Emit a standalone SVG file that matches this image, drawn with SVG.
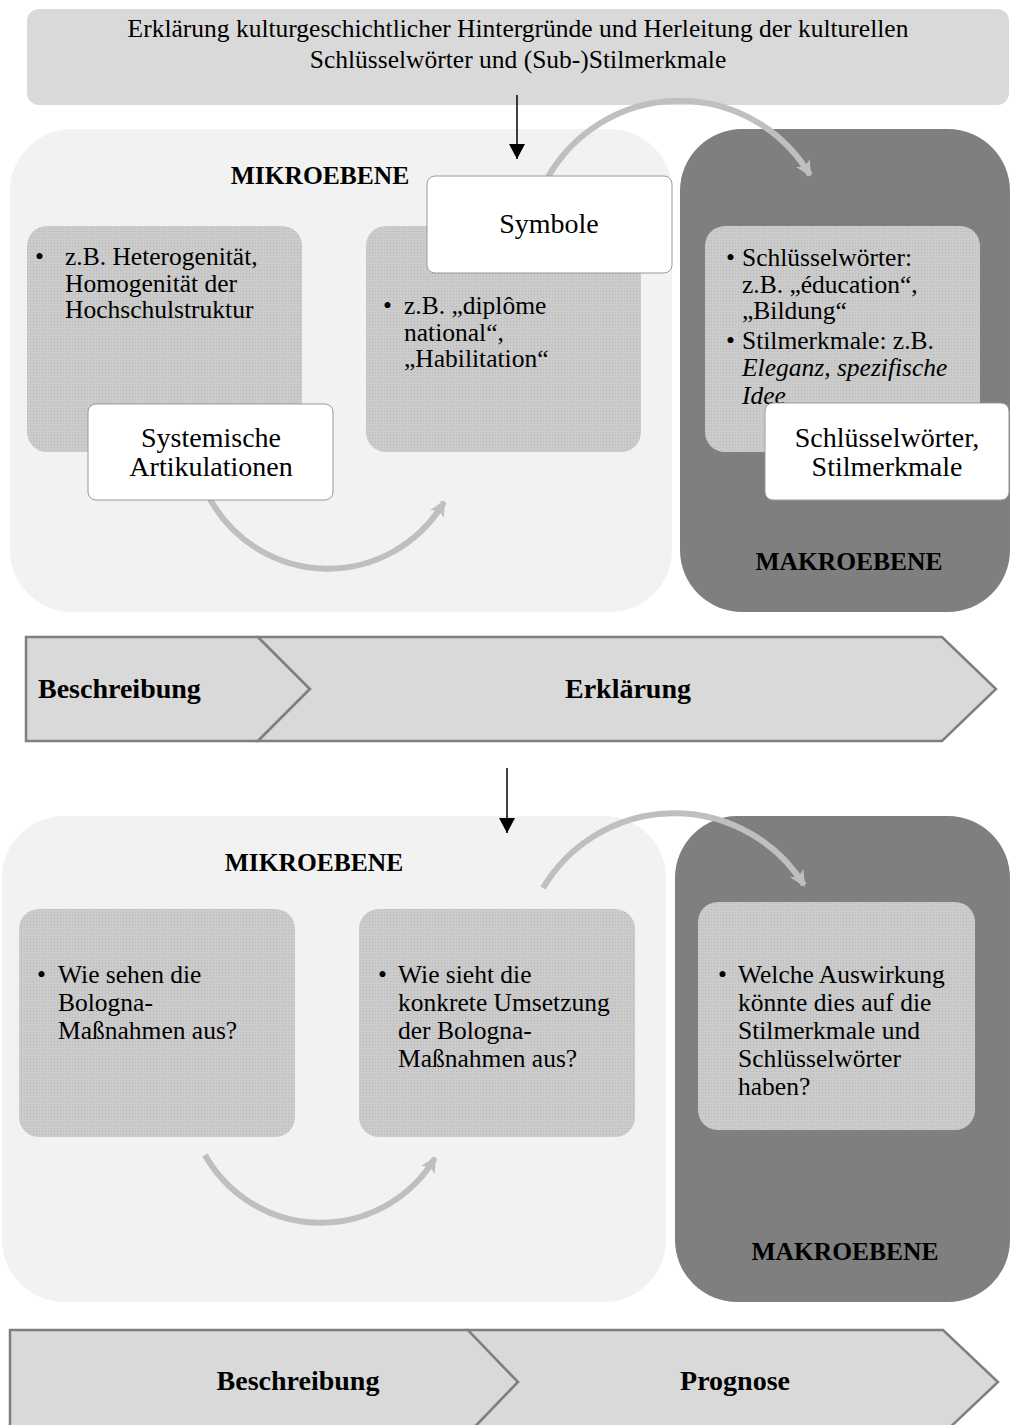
<svg xmlns="http://www.w3.org/2000/svg" width="1010" height="1425" viewBox="0 0 1010 1425">
<defs>
<pattern id="dots" width="3" height="3" patternUnits="userSpaceOnUse">
<rect width="3" height="3" fill="#cbcbcb"/>
<rect width="1" height="1" fill="#b8b8b8"/>
</pattern>
<marker id="greyHead" markerWidth="18" markerHeight="18" refX="14" refY="9" orient="auto" markerUnits="userSpaceOnUse">
<path d="M0,1 L16,9 L0,17 L4,9 Z" fill="#bfbfbf"/>
</marker>
<marker id="blackHead" markerWidth="16" markerHeight="16" refX="15" refY="8" orient="auto" markerUnits="userSpaceOnUse">
<path d="M0,0 L15,8 L0,16 Z" fill="#000"/>
</marker>
<style>
.t{font-family:"Liberation Serif","Times New Roman",serif;fill:#000}
.body{font-size:25.5px}
.lab{font-size:28px}
.head{font-size:25.5px;font-weight:bold}
.chev{font-size:28px;font-weight:bold}
.inner{fill:url(#dots)}
.white{fill:#ffffff;stroke:#9a9a9a;stroke-width:1}
.mikro{fill:#f2f2f2}
.makro{fill:#7f7f7f}
.chevshape{fill:#d9d9d9;stroke:#7f7f7f;stroke-width:2.5}
.arc{fill:none;stroke:#bfbfbf;stroke-width:6;marker-end:url(#greyHead)}
.down{stroke:#000;stroke-width:1.5;marker-end:url(#blackHead)}
</style>
</defs>

<g id="banner">
<rect x="27" y="9" width="982" height="96" rx="12" fill="#d9d9d9"/>
<text class="t" x="518" y="37" text-anchor="middle" font-size="25.5">Erklärung kulturgeschichtlicher Hintergründe und Herleitung der kulturellen</text>
<text class="t" x="518" y="68" text-anchor="middle" font-size="25.5">Schlüsselwörter und (Sub-)Stilmerkmale</text>
</g>

<g id="mikro1">
<rect class="mikro" x="10" y="129" width="662" height="483" rx="62"/>
<text class="t head" x="320" y="184" text-anchor="middle">MIKROEBENE</text>
</g>
<g id="makro1">
<rect class="makro" x="680" y="129" width="330" height="483" rx="62"/>
<text class="t head" x="849" y="570" text-anchor="middle">MAKROEBENE</text>
</g>

<g id="mikro2">
<rect class="mikro" x="2" y="816" width="664" height="486" rx="62"/>
<text class="t head" x="314" y="871" text-anchor="middle">MIKROEBENE</text>
</g>
<g id="makro2">
<rect class="makro" x="675" y="816" width="335" height="486" rx="62"/>
<text class="t head" x="845" y="1260" text-anchor="middle">MAKROEBENE</text>
</g>

<g id="box-hetero">
<rect class="inner" x="27" y="226" width="275" height="226" rx="20"/>
<text class="t body" x="35" y="265">•</text>
<text class="t body"><tspan x="65" y="265">z.B. Heterogenität,</tspan><tspan x="65" y="291.5">Homogenität der</tspan><tspan x="65" y="318">Hochschulstruktur</tspan></text>
</g>

<g id="box-diplome">
<rect class="inner" x="366" y="226" width="275" height="226" rx="20"/>
<text class="t body" x="383" y="314">•</text>
<text class="t body"><tspan x="404" y="314">z.B. „diplôme</tspan><tspan x="404" y="340.5">national“,</tspan><tspan x="404" y="367">„Habilitation“</tspan></text>
</g>

<g id="box-schluessel">
<rect class="inner" x="705" y="226" width="275" height="226" rx="20"/>
<text class="t body" x="726" y="266">•</text>
<text class="t body"><tspan x="742" y="266">Schlüsselwörter:</tspan><tspan x="742" y="292.5">z.B. „éducation“,</tspan><tspan x="742" y="319">„Bildung“</tspan></text>
<text class="t body" x="726" y="349">•</text>
<text class="t body"><tspan x="742" y="349">Stilmerkmale: z.B.</tspan><tspan x="742" y="376" font-style="italic">Eleganz, spezifische</tspan><tspan x="742" y="404" font-style="italic">Idee</tspan></text>
</g>

<g id="connectors">
<line class="down" x1="517" y1="95" x2="517" y2="159"/>
<line class="down" x1="507" y1="768" x2="507" y2="833"/>
<path class="arc" d="M548,177 A151.6,151.6 0 0 1 810,175"/>
<path class="arc" d="M210,499 A134.5,134.5 0 0 0 444,502"/>
<path class="arc" d="M543,888 A152.8,152.8 0 0 1 804,885"/>
<path class="arc" d="M205,1155 A133,133 0 0 0 435,1158"/>
</g>

<g id="symbole">
<rect class="white" x="427" y="176" width="245" height="97" rx="8"/>
<text class="t lab" x="549" y="233" text-anchor="middle">Symbole</text>
</g>

<g id="systemische">
<rect class="white" x="88" y="404" width="245" height="96" rx="8"/>
<text class="t lab" text-anchor="middle"><tspan x="211" y="447">Systemische</tspan><tspan x="211" y="476">Artikulationen</tspan></text>
</g>

<g id="schluesselwoerter-stil">
<rect class="white" x="765" y="403" width="244" height="97" rx="8"/>
<text class="t lab" text-anchor="middle"><tspan x="887" y="447">Schlüsselwörter,</tspan><tspan x="887" y="476">Stilmerkmale</tspan></text>
</g>

<g id="chevron1">
<polygon class="chevshape" points="26,637 258,637 310,689 258,741 26,741"/>
<polygon class="chevshape" points="258,637 942,637 996,689 942,741 258,741 310,689"/>
<text class="t chev" x="38" y="698">Beschreibung</text>
<text class="t chev" x="628" y="698" text-anchor="middle">Erklärung</text>
</g>

<g id="box-wie-sehen">
<rect class="inner" x="19" y="909" width="276" height="228" rx="20"/>
<text class="t body" x="37" y="983">•</text>
<text class="t body"><tspan x="58" y="983">Wie sehen die</tspan><tspan x="58" y="1011">Bologna-</tspan><tspan x="58" y="1039">Maßnahmen aus?</tspan></text>
</g>

<g id="box-wie-sieht">
<rect class="inner" x="359" y="909" width="276" height="228" rx="20"/>
<text class="t body" x="378" y="983">•</text>
<text class="t body"><tspan x="398" y="983">Wie sieht die</tspan><tspan x="398" y="1011">konkrete Umsetzung</tspan><tspan x="398" y="1039">der Bologna-</tspan><tspan x="398" y="1067">Maßnahmen aus?</tspan></text>
</g>

<g id="box-welche">
<rect class="inner" x="698" y="902" width="277" height="228" rx="20"/>
<text class="t body" x="718" y="983">•</text>
<text class="t body"><tspan x="738" y="983">Welche Auswirkung</tspan><tspan x="738" y="1011">könnte dies auf die</tspan><tspan x="738" y="1039">Stilmerkmale und</tspan><tspan x="738" y="1067">Schlüsselwörter</tspan><tspan x="738" y="1095">haben?</tspan></text>
</g>

<g id="chevron2">
<polygon class="chevshape" points="10,1330 468,1330 518,1382 468,1434 10,1434"/>
<polygon class="chevshape" points="468,1330 943,1330 998,1382 943,1434 468,1434 518,1382"/>
<text class="t chev" x="298" y="1390" text-anchor="middle">Beschreibung</text>
<text class="t chev" x="735" y="1390" text-anchor="middle">Prognose</text>
</g>
</svg>
